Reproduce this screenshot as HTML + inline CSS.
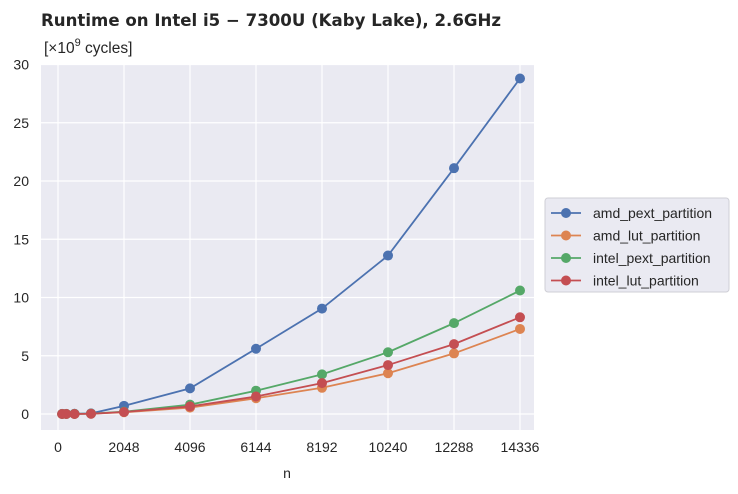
<!DOCTYPE html>
<html><head><meta charset="utf-8"><style>
body{margin:0;background:#fff;font-family:"Liberation Sans","DejaVu Sans",sans-serif;}
svg text{font-family:"Liberation Sans","DejaVu Sans",sans-serif;fill:#262626;}
</style></head><body>
<svg id="chart" width="738" height="489" xmlns="http://www.w3.org/2000/svg">
<text x="41" y="26" font-size="16.6" font-weight="bold" style="font-family:'DejaVu Sans',sans-serif">Runtime on Intel i5 − 7300U (Kaby Lake),  2.6GHz</text>
<text x="44" y="53" font-size="15.5">[×10<tspan dy="-7" font-size="11">9</tspan><tspan dy="7"> cycles]</tspan></text>
<rect x="41" y="64" width="493" height="366" fill="#eaeaf2"/>
<g id="grid"></g><g id="series"></g>
<text x="287" y="478" font-size="14" text-anchor="middle">n</text>
<g id="legend">
<rect x="545" y="198" width="184" height="94" rx="3" fill="#eaeaf2" stroke="#cfcfd6"/>
</g>
</svg>
<script>
const categories=[128,256,512,1024,2048,4096,6144,8192,10240,12288,14336];
const seriesNames=["amd_pext_partition","amd_lut_partition","intel_pext_partition","intel_lut_partition"];
const amdPext=[0.01,0.01,0.02,0.05,0.7,2.2,5.6,9.05,13.6,21.1,28.8];
const amdLut=[0,0,0,0.02,0.15,0.55,1.35,2.25,3.5,5.2,7.3];
const intelPext=[0,0,0.01,0.03,0.2,0.8,2.0,3.4,5.3,7.8,10.6];
const intelLut=[0,0,0,0.02,0.17,0.65,1.5,2.65,4.2,6.0,8.3];
const xTicks=[0,2048,4096,6144,8192,10240,12288,14336];
const yTicks=[0,5,10,15,20,25,30];
const colors=["#4c72b0","#dd8452","#55a868","#c44e52"];
const NS="http://www.w3.org/2000/svg";
const X=v=>58+v*(462/14336);
const Y=v=>414-v*11.65;
function mk(tag,attrs,parent){const e=document.createElementNS(NS,tag);for(const k in attrs)e.setAttribute(k,attrs[k]);parent.appendChild(e);return e;}
const grid=document.getElementById('grid'),svg=document.getElementById('chart');
xTicks.forEach(t=>{
 const l=mk('line',{x1:X(t),x2:X(t),y1:64,y2:430,stroke:'#fff','stroke-width':1.2},grid);
 
 
 const tx=mk('text',{x:X(t),y:452,'font-size':14,'text-anchor':'middle'},svg);tx.textContent=t;
 
 
});
yTicks.forEach(t=>{
 const l=mk('line',{x1:41,x2:534,y1:Y(t),y2:Y(t),stroke:'#fff','stroke-width':1.2},grid);
 
 
 const tx=mk('text',{x:29,y:Y(t)+5,'font-size':14,'text-anchor':'end'},svg);tx.textContent=t;
 
 
});
const data=[amdPext,amdLut,intelPext,intelLut];
const sg=document.getElementById('series');
data.forEach((vals,i)=>{
 const g=mk('g',{},sg);
 
 
 const p=mk('polyline',{points:vals.map((v,j)=>X(categories[j])+','+Y(v)).join(' '),fill:'none',stroke:colors[i],'stroke-width':1.8},g);
 
 
 vals.forEach((v,j)=>{
  const c=mk('circle',{cx:X(categories[j]),cy:Y(v),r:5,fill:colors[i]},g);
  
  
 });
});
const lg=document.getElementById('legend');
seriesNames.forEach((n,i)=>{
 const y=213+i*22.5;
 const e=mk('g',{},lg);
 
 
 mk('line',{x1:551,x2:581,y1:y,y2:y,stroke:colors[i],'stroke-width':1.8},e);
 mk('circle',{cx:566,cy:y,r:5,fill:colors[i]},e);
 const t=mk('text',{x:593,y:y+5,'font-size':14},e);t.textContent=n;
});
</script>
</body></html>
